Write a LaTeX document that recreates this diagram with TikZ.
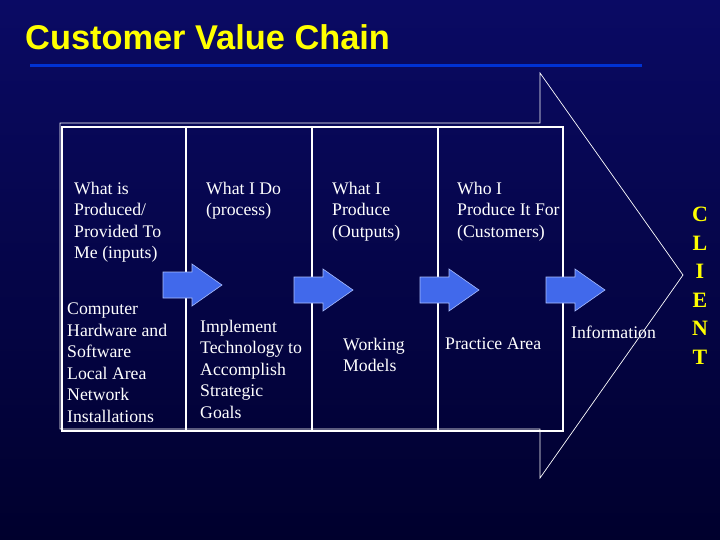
\documentclass[tikz,border=0pt]{standalone}
\usepackage{fontspec}
\setmainfont{Liberation Serif}
\newfontfamily\arialf{Liberation Sans}
\definecolor{ttl}{RGB}{255,255,0}
\definecolor{uline}{RGB}{0,50,210}
\definecolor{bgtop}{RGB}{10,10,100}
\definecolor{bgbot}{RGB}{0,0,45}
\definecolor{arrfill}{RGB}{65,105,235}
\definecolor{arrdraw}{RGB}{170,190,255}
\begin{document}
\begin{tikzpicture}[x=1bp,y=-1bp,
  txt/.style={anchor=north west,inner sep=0pt,align=left,text=white,font=\fontsize{17.8}{21.5}\selectfont},
  frame/.style={draw=white,line width=1.3bp},
  blockarrow/.style={fill=arrfill,draw=arrdraw,line width=0.6bp}]
\useasboundingbox (0,0) rectangle (720,540);
\shade[top color=bgtop,bottom color=bgbot] (0,0) rectangle (720,540);
\node[anchor=west,inner sep=0pt,text=ttl,font=\arialf\bfseries\fontsize{34.5}{38}\selectfont] (title) at (25,37) {Customer Value Chain};
\draw[line width=3bp,uline] (30,66) -- (642,66);
% big outline arrow
\draw[white,line width=0.7bp] (60,123) -- (540,123) -- (540,73) -- (683,275) -- (540,478) -- (540,429) -- (60,429) -- cycle;
% rectangle with dividers
\draw[frame] (62,127) rectangle (563,431);
\foreach \x in {186,312,438} \draw[frame] (\x,127) -- (\x,431);
% small arrows
\foreach \x/\y in {163/285,294/290,420/290,546/290}
  \draw[blockarrow] (\x,\y-13) -- (\x+29,\y-13) -- (\x+29,\y-21) -- (\x+59,\y) -- (\x+29,\y+21) -- (\x+29,\y+13) -- (\x,\y+13) -- cycle;
\node[txt] (a1) at (74,182) {What is\\Produced/\\Provided To\\Me (inputs)};
\node[txt] (a2) at (206,182) {What I Do\\(process)};
\node[txt] (a3) at (332,182) {What I\\Produce\\(Outputs)};
\node[txt] (a4) at (457,182) {Who I\\Produce It For\\(Customers)};
\node[txt] (b1) at (67,303) {Computer\\Hardware and\\Software\\Local Area\\Network\\Installations};
\node[txt] (b2) at (200,320) {Implement\\Technology to\\Accomplish\\Strategic\\Goals};
\node[txt] (b3) at (343,338) {Working\\Models};
\node[txt] (b4) at (445,338) {Practice Area};
\node[txt] (b5) at (571,326) {Information};
\node[anchor=north,inner sep=0pt,align=center,text=ttl,font=\bfseries\fontsize{22}{28.6}\selectfont] (client) at (700,207) {C\\L\\I\\E\\N\\T};
\end{tikzpicture}
\end{document}
